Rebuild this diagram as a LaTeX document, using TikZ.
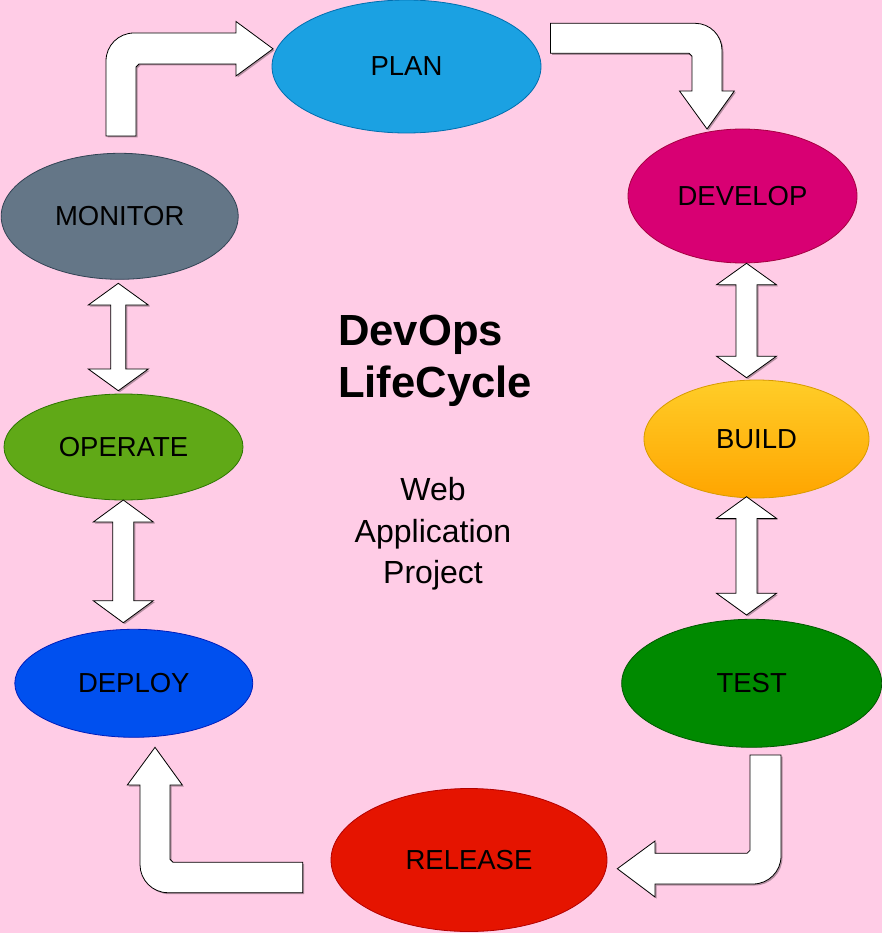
\documentclass[tikz,border=0pt]{standalone}
\usepackage{fontspec}
\setmainfont{Liberation Sans}
\usetikzlibrary{shapes.geometric,shadows}

\definecolor{bgpink}{HTML}{FFCCE6}
\definecolor{planfill}{HTML}{1BA1E2}  \definecolor{planline}{HTML}{006EAF}
\definecolor{devfill}{HTML}{D80073}   \definecolor{devline}{HTML}{A50040}
\definecolor{buildtop}{HTML}{FFCD28}  \definecolor{buildbot}{HTML}{FFA500}
\definecolor{buildline}{HTML}{D79B00}
\definecolor{testfill}{HTML}{008A00}  \definecolor{testline}{HTML}{005700}
\definecolor{relfill}{HTML}{E51400}   \definecolor{relline}{HTML}{B20000}
\definecolor{depfill}{HTML}{0050EF}   \definecolor{depline}{HTML}{001DBC}
\definecolor{opfill}{HTML}{60A917}    \definecolor{opline}{HTML}{2D7600}
\definecolor{monfill}{HTML}{647687}   \definecolor{monline}{HTML}{314354}

% two-headed block arrow: x, top tip, bottom tip, half shaft, head length
\newcommand{\updown}[5]{%
  \draw[blockarrow] (#1,#2) -- ({#1+30},{#2+#5}) -- ({#1+#4},{#2+#5})
    -- ({#1+#4},{#3-#5}) -- ({#1+30},{#3-#5}) -- (#1,#3)
    -- ({#1-30},{#3-#5}) -- ({#1-#4},{#3-#5}) -- ({#1-#4},{#2+#5})
    -- ({#1-30},{#2+#5}) -- cycle;}

\begin{document}
\begin{tikzpicture}[x=1pt,y=-1pt,
    phase/.style={ellipse,draw,line width=0.8pt,inner sep=0pt,
      font=\fontsize{27.5}{33}\selectfont},
    blockarrow/.style={draw=black,fill=white,line width=0.8pt,line join=miter,
      drop shadow={shadow xshift=1.5pt,shadow yshift=-1.5pt,fill=black,opacity=.3}}]
    \fill[bgpink] (0,0) rectangle (882,933);
    \useasboundingbox (0,0) rectangle (882,933);

    \node[phase,fill=planfill,draw=planline,minimum width=269pt,minimum height=133pt]
      (plan) at (406.5,66.5) {PLAN};
    \node[phase,fill=devfill,draw=devline,minimum width=229pt,minimum height=134pt]
      (develop) at (742.5,196) {DEVELOP};
    \node[phase,top color=buildtop,bottom color=buildbot,draw=buildline,
      minimum width=225pt,minimum height=118pt]
      (build) at (756.5,439) {BUILD};
    \node[phase,fill=testfill,draw=testline,minimum width=260pt,minimum height=128pt]
      (test) at (751.7,683.3) {TEST};
    \node[phase,fill=relfill,draw=relline,minimum width=276pt,minimum height=143pt]
      (release) at (469,860) {RELEASE};
    \node[phase,fill=depfill,draw=depline,minimum width=238pt,minimum height=108pt]
      (deploy) at (133.8,683.3) {DEPLOY};
    \node[phase,fill=opfill,draw=opline,minimum width=239pt,minimum height=106pt]
      (operate) at (123.5,447) {OPERATE};
    \node[phase,fill=monfill,draw=monline,minimum width=237pt,minimum height=126pt]
      (monitor) at (119.7,216.3) {MONITOR};

    \node[anchor=north west,align=left,inner sep=0pt,
      font=\fontsize{43.6}{52.5}\selectfont\bfseries]
      (title) at (338,314.5) {DevOps\\LifeCycle};
    \node[anchor=north,align=center,inner sep=0pt,
      font=\fontsize{32}{41.7}\selectfont]
      (project) at (433,477) {Web\\Application\\Project};

    % bent arrows round the cycle
    \draw[blockarrow] (106,136) -- (106,61) .. controls (106,45.5) and (118.5,33) .. (134,33)
      -- (236,33) -- (236,21.5) -- (273,48.8) -- (236,76) -- (236,64)
      -- (139,64) -- (136,67) -- (136,136) -- cycle;
    \draw[blockarrow] (550.5,23.3) -- (695,23.3) .. controls (710,23.3) and (722,35.3) .. (722,50.3)
      -- (722,91) -- (734.3,91) -- (707,129) -- (679.5,91) -- (692,91)
      -- (692,56.3) -- (689,53.3) -- (550.5,53.3) -- cycle;
    \draw[blockarrow] (750,755) -- (781,755) -- (781,856) .. controls (781,871.5) and (768.5,884) .. (753,884)
      -- (655,884) -- (655,897) -- (617.3,868.7) -- (655,841) -- (655,853.3)
      -- (747,853.3) -- (750,850.3) -- cycle;
    \draw[blockarrow] (302.7,862.3) -- (173,862.3) -- (170,859.3) -- (170,785)
      -- (182.3,785) -- (155,747.3) -- (127.3,785) -- (140,785)
      -- (140,864.7) .. controls (140,880) and (152.5,892.7) .. (168,892.7)
      -- (302.7,892.7) -- cycle;

    % two-way arrows
    \updown{746.5}{263.3}{377.7}{10.5}{21.5}
    \updown{746.5}{496.7}{615}{10.5}{21.7}
    \updown{118.3}{283.3}{390.7}{7.5}{21.7}
    \updown{123.3}{500}{622.7}{10.5}{22}
\end{tikzpicture}
\end{document}
